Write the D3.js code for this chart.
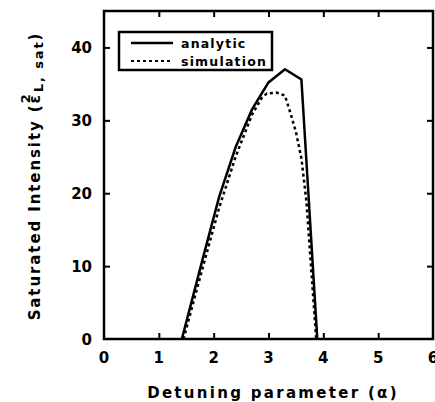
<!DOCTYPE html>
<html lang="en">
<head>
    <meta charset="UTF-8">
    <title>Saturated Intensity vs Detuning</title>
    <script src="https://cdn.jsdelivr.net/npm/d3@7"></script>
    <style>
        body { margin: 0; background: #fff; }
        text { font-family: "DejaVu Sans", sans-serif; font-weight: bold; fill: #000; }
    </style>
</head>
<body>
    <div id="chart"></div>

    <script>
        // data
        const analyticX = [1.42, 1.8, 2.1, 2.4, 2.7, 3.0, 3.3, 3.6, 3.89];
        const analyticY = [0, 11.0, 19.5, 26.3, 31.5, 35.2, 37.0, 35.6, 0];
        const simX = [1.45, 1.8, 2.1, 2.4, 2.7, 2.88, 2.97, 3.15, 3.3, 3.4, 3.5, 3.6, 3.69, 3.87];
        const simY = [0, 9.8, 18.0, 25.0, 30.8, 33.1, 33.7, 33.8, 33.4, 31.0, 28.4, 24.8, 19.0, 0];
        const xTicks = [0, 1, 2, 3, 4, 5, 6];
        const yTicks = [0, 10, 20, 30, 40];
        const legendLabels = ["analytic", "simulation"];

        const W = 435, H = 402;
        const m = {left: 104, right: 2, top: 11, bottom: 63};

        const svg = d3.select("#chart").append("svg")
            .attr("width", W)
            .attr("height", H);

        const x = d3.scaleLinear().domain([0, 6]).range([m.left, W - m.right]);
        const y = d3.scaleLinear().domain([0, 45]).range([H - m.bottom, m.top]);

        // inner ticks on all four sides
        const tk = 6;
        svg.append("g").attr("transform", `translate(0,${y(0)})`)
            .call(d3.axisTop(x).tickValues(xTicks.slice(1, -1)).tickSize(tk).tickFormat(""));
        svg.append("g").attr("transform", `translate(0,${y(45)})`)
            .call(d3.axisBottom(x).tickValues(xTicks.slice(1, -1)).tickSize(tk).tickFormat(""));
        svg.append("g").attr("transform", `translate(${x(0)},0)`)
            .call(d3.axisRight(y).tickValues(yTicks.slice(1)).tickSize(tk).tickFormat(""));
        svg.append("g").attr("transform", `translate(${x(6)},0)`)
            .call(d3.axisLeft(y).tickValues(yTicks.slice(1)).tickSize(tk).tickFormat(""));
        svg.selectAll(".domain").remove();
        svg.selectAll(".tick line").attr("stroke", "#000").attr("stroke-width", 2);

        // frame
        svg.append("rect")
            .attr("x", x(0)).attr("y", y(45))
            .attr("width", x(6) - x(0)).attr("height", y(0) - y(45))
            .attr("fill", "none").attr("stroke", "#000").attr("stroke-width", 2.5);

        // tick labels
        svg.selectAll(".xl").data(xTicks).enter().append("text")
            .attr("x", d => x(d)).attr("y", y(0) + 24)
            .attr("text-anchor", "middle").attr("font-size", "15px")
            .text(d => d);
        svg.selectAll(".yl").data(yTicks).enter().append("text")
            .attr("x", x(0) - 12).attr("y", d => y(d) + 6)
            .attr("text-anchor", "end").attr("font-size", "15px")
            .text(d => d);

        // curves
        const line = d3.line().x(d => x(d[0])).y(d => y(d[1]));
        svg.append("path")
            .datum(d3.zip(analyticX, analyticY))
            .attr("d", line)
            .attr("fill", "none").attr("stroke", "#000").attr("stroke-width", 2.5)
            .attr("stroke-linejoin", "miter");
        svg.append("path")
            .datum(d3.zip(simX, simY))
            .attr("d", line)
            .attr("fill", "none").attr("stroke", "#000").attr("stroke-width", 2.5)
            .attr("stroke-dasharray", "3,3");

        // legend
        const lg = svg.append("g");
        lg.append("rect")
            .attr("x", 119).attr("y", 32).attr("width", 153).attr("height", 38)
            .attr("fill", "#fff").attr("stroke", "#000").attr("stroke-width", 2.5);
        legendLabels.forEach((lab, i) => {
            const ly = 43 + i * 18;
            lg.append("line")
                .attr("x1", 131).attr("x2", 173).attr("y1", ly).attr("y2", ly)
                .attr("stroke", "#000").attr("stroke-width", i ? 2 : 2.5)
                .attr("stroke-dasharray", i ? "3,3" : null);
            lg.append("text")
                .attr("x", 181).attr("y", ly + 5)
                .attr("font-size", "12.5px").attr("letter-spacing", "1.2px")
                .text(lab);
        });

        // axis titles
        svg.append("text")
            .attr("x", 273).attr("y", 398)
            .attr("text-anchor", "middle").attr("font-size", "15px")
            .attr("letter-spacing", "2.3px")
            .text("Detuning parameter (α)");

        const yt = svg.append("text")
            .attr("transform", "translate(40,176) rotate(-90)")
            .attr("text-anchor", "middle").attr("font-size", "15px")
            .attr("letter-spacing", "1.9px");
        yt.append("tspan").text("Saturated Intensity (ε");
        yt.append("tspan").attr("font-size", "13px").attr("dy", -10).attr("dx", -10).text("2");
        yt.append("tspan").attr("font-size", "13px").attr("dy", 13).attr("dx", 0).text("L, sat");
        yt.append("tspan").attr("dy", -3).text(")");
    </script>
</body>
</html>
